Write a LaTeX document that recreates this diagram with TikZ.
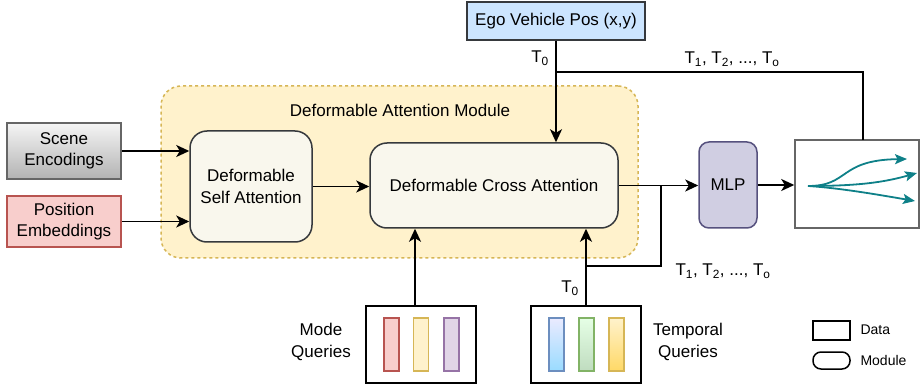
\documentclass[tikz,border=0pt]{standalone}
\usepackage{fontspec}
\setmainfont{Liberation Sans}
\usetikzlibrary{arrows.meta,positioning}

\definecolor{modfill}{HTML}{F9F7ED}
\definecolor{modline}{HTML}{36393D}
\definecolor{damfill}{HTML}{FFF2CC}
\definecolor{damline}{HTML}{D6B656}
\definecolor{redfill}{HTML}{F8CECC}
\definecolor{redline}{HTML}{B85450}
\definecolor{egofill}{HTML}{CCE5FF}
\definecolor{mlpfill}{HTML}{D0CEE2}
\definecolor{mlpline}{HTML}{56517E}
\definecolor{purfill}{HTML}{E1D5E7}
\definecolor{purline}{HTML}{9673A6}
\definecolor{blueline}{HTML}{6C8EBF}
\definecolor{greenline}{HTML}{82B366}
\definecolor{trajcol}{HTML}{0E8088}

\tikzstyle{rect} = [rectangle, draw=black!60, line width=1.5pt, text centered, align=center, inner sep=0pt]
\tikzstyle{module} = [rect, draw=modline, fill=modfill, rounded corners=17pt]
\tikzstyle{bar} = [rectangle, line width=1.2pt, minimum width=15pt, minimum height=53pt, inner sep=0pt]
\tikzstyle{arrow} = [line width=1.6pt, -{Stealth[length=13pt, width=12pt, inset=3.5pt]}]
\tikzstyle{line} = [line width=1.6pt]
\tikzstyle{traj} = [line width=1.8pt, trajcol, -{Stealth[length=12pt, width=10pt, inset=2.5pt]}]
\tikzstyle{label} = [align=center]
\tikzstyle{legend} = [font=\fontsize{14}{17}\selectfont, anchor=west]

\begin{document}
\begin{tikzpicture}[x=1pt, y=-1pt, font=\fontsize{17}{21.5}\selectfont]

\useasboundingbox (0,0) rectangle (921,387);

% attention module background
\node (dam) [rect, draw=damline, fill=damfill, dashed, rounded corners=20pt, minimum width=477pt, minimum height=172pt] at (399.5,172) {};
\node (damtitle) [label] at (400,110) {Deformable Attention Module};

\node (scene) [rect, top color=black!4, bottom color=black!30, minimum width=114pt, minimum height=56pt] at (64,151) {Scene\\Encodings};
\node (pos) [rect, draw=redline, fill=redfill, minimum width=114pt, minimum height=51pt] at (64,221.5) {Position\\Embeddings};

\node (self) [module, minimum width=122pt, minimum height=111pt] at (251,186.5) {Deformable\\Self Attention};
\node (cross) [module, minimum width=248pt, minimum height=85pt] at (494,185.5) {Deformable Cross Attention};

\node (ego) [rect, draw=modline, fill=egofill, minimum width=178pt, minimum height=38pt] at (556,21) {Ego Vehicle Pos (x,y)};
\node (mlp) [module, draw=mlpline, fill=mlpfill, rounded corners=10pt, minimum width=58pt, minimum height=86pt] at (728,185) {MLP};
\node (out) [rect, minimum width=124pt, minimum height=88pt] at (857,184) {};

% query blocks
\node (mode) [rect, draw=black, minimum width=110pt, minimum height=77pt] at (421,344.5) {};
\node (mq1) [bar, draw=redline, fill=redfill] at (391.5,344.5) {};
\node (mq2) [bar, draw=damline, fill=damfill] at (421,344.5) {};
\node (mq3) [bar, draw=purline, fill=purfill] at (451.5,344.5) {};
\node (modelabel) [label] at (321,342) {Mode\\Queries};

\node (temporal) [rect, draw=black, minimum width=110pt, minimum height=77pt] at (586,344.5) {};
\node (tq1) [bar, draw=blueline, top color=blue!8, bottom color=blue!35!cyan!40] at (556.5,344.5) {};
\node (tq2) [bar, draw=greenline, top color=green!10!white, bottom color=green!45!black!25!white] at (586.5,344.5) {};
\node (tq3) [bar, draw=damline, top color=damfill, bottom color=yellow!50!orange!60] at (616.5,344.5) {};
\node (templabel) [label] at (688,342) {Temporal\\Queries};

% legend
\node (legdata) [rect, draw=black, minimum width=37pt, minimum height=19pt] at (831.5,330.5) {};
\node (legmod) [rect, draw=black, rounded corners=8pt, minimum width=37pt, minimum height=17pt] at (831.5,360.5) {};
\node (legdatatext) [legend] at (857,330) {Data};
\node (legmodtext) [legend] at (857,360) {Module};

% time step labels
\node (t0top) at (540,58) {T\textsubscript{0}};
\node (tntop) at (732,59) {T\textsubscript{1}, T\textsubscript{2}, ..., T\textsubscript{o}};
\node (tnbot) at (723,271) {T\textsubscript{1}, T\textsubscript{2}, ..., T\textsubscript{o}};
\node (t0bot) at (570,288) {T\textsubscript{0}};

\coordinate (egosplit) at (556,72);
\coordinate (outtop) at (863,140);
\coordinate (crosssplit) at (661,185.5);
\coordinate (tqjoin) at (586,266);

\draw[arrow] (scene.east) -- (scene.east -| self.west);
\draw[arrow] (pos.east) -- (pos.east -| self.west);
\draw[arrow] (self.east) -- (self.east -| cross.west);
\draw[arrow] (ego.south) -- (ego.south |- cross.north);
\draw[line] (egosplit) -| (outtop);
\draw[arrow] (cross.east) -- (cross.east -| mlp.west);
\draw[arrow] (mlp.east) -- (mlp.east -| out.west);
\draw[line] (crosssplit) |- (tqjoin);
\draw[arrow] ([xshift=-6pt]mode.north) -- ([xshift=-6pt]mode.north |- cross.south);
\draw[arrow] (temporal.north) -- (temporal.north |- cross.south);

% predicted trajectories
\draw[traj] (808,186) .. controls (850,186) and (838,160) .. (907,159);
\draw[traj] (808,186) .. controls (860,186) and (885,182) .. (917,173);
\draw[traj] (808,186) .. controls (840,188) and (880,195) .. (915,201);

\end{tikzpicture}
\end{document}
